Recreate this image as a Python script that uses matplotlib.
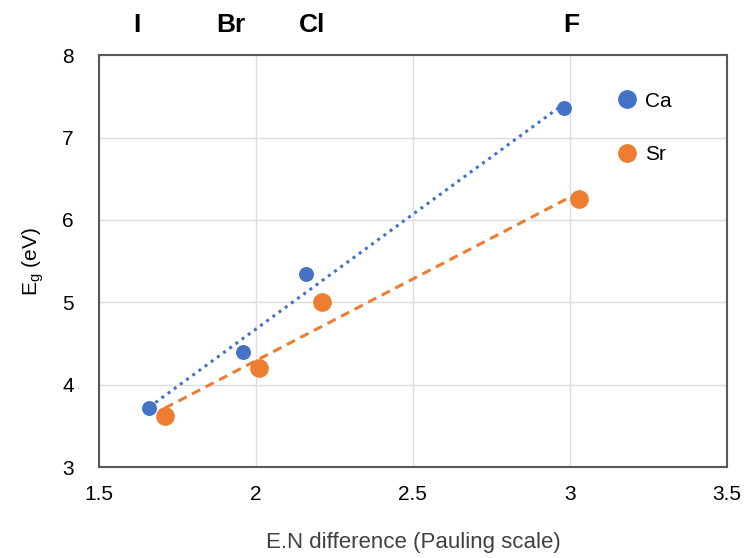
import numpy as np
import matplotlib
matplotlib.use("Agg")
import matplotlib.pyplot as plt
from matplotlib.lines import Line2D

# E.N difference vs band gap
ca_x = [1.66, 1.96, 2.16, 2.98]
ca_y = [3.72, 4.40, 5.34, 7.36]
sr_x = [1.71, 2.01, 2.21, 3.03]
sr_y = [3.62, 4.20, 5.00, 6.25]

series = ["Ca", "Sr"]
halides = ["I", "Br", "Cl", "F"]
halide_x = [1.62, 1.92, 2.18, 3.005]

blue = "#4472C4"
orange = "#ED7D31"

plt.rcParams["font.family"] = ["Liberation Sans", "DejaVu Sans"]

fig = plt.figure(figsize=(7.47, 5.58), dpi=100)
ax = fig.add_axes([0.1325, 0.163, 0.8405, 0.738])

# linear trendlines over each series' span
for xs, ys, col, ls in [(ca_x, ca_y, blue, (0, (1, 1.5))),
                        (sr_x, sr_y, orange, (0, (3, 2)))]:
    k, b = np.polyfit(xs, ys, 1)
    xx = np.array([min(xs), max(xs)])
    ax.plot(xx, k * xx + b, color=col, linestyle=ls, linewidth=2.2, zorder=2)

ax.scatter(ca_x, ca_y, s=95, color=blue, zorder=3)
ax.scatter(sr_x, sr_y, s=155, color=orange, zorder=3)

ax.set_xlim(1.5, 3.5)
ax.set_ylim(3, 8)
ax.set_xticks([1.5, 2, 2.5, 3, 3.5])
ax.set_xticklabels(["1.5", "2", "2.5", "3", "3.5"])
ax.set_yticks([3, 4, 5, 6, 7, 8])
ax.grid(True, color="#DDDDDD", linewidth=1)
ax.set_axisbelow(True)
for sp in ax.spines.values():
    sp.set_color("#595959")
    sp.set_linewidth(1.5)
ax.tick_params(axis="x", length=0, labelsize=15, pad=13)
ax.tick_params(axis="y", length=0, labelsize=15, pad=18)

ax.set_xlabel("E.N difference (Pauling scale)", fontsize=16, color="#404040", labelpad=20)
ax.set_ylabel(r"E$_\mathregular{g}$ (eV)", fontsize=15, color="#000000", labelpad=12)

for name, hx in zip(halides, halide_x):
    ax.text(hx, 1.073, name, transform=ax.get_xaxis_transform(),
            ha="center", va="center", fontsize=19, fontweight="bold")

handles = [Line2D([], [], marker="o", ls="", ms=12.5, color=c) for c in (blue, orange)]
ax.legend(handles, series, loc="upper left", bbox_to_anchor=(0.792, 0.957), frameon=False,
          fontsize=15, labelspacing=1.65, handletextpad=0.25, handlelength=1.2)

fig.savefig("out.png", dpi=100)
